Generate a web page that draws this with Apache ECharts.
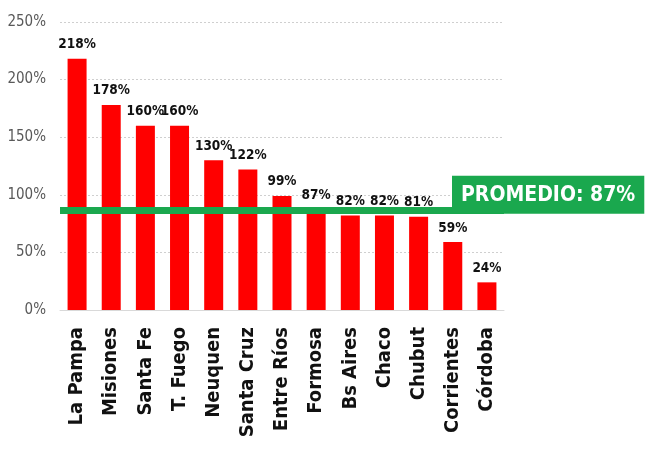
<!DOCTYPE html>
<html>
<head>
<meta charset="utf-8">
<script src="https://cdn.jsdelivr.net/npm/echarts@6/dist/echarts.min.js"></script>
<style>
  html, body { margin: 0; padding: 0; background: #fff; }
  #chart { width: 650px; height: 450px; }
</style>
</head>
<body>
<div id="chart"></div>
<script>
// provincias y porcentajes
const provincias = ["La Pampa", "Misiones", "Santa Fe", "T. Fuego", "Neuquen", "Santa Cruz", "Entre Ríos", "Formosa", "Bs Aires", "Chaco", "Chubut", "Corrientes", "Córdoba"];
const valores = [218, 178, 160, 160, 130, 122, 99, 87, 82, 82, 81, 59, 24];
const promedio = 87;
const yTicks = [0, 50, 100, 150, 200, 250];

const font = '"Liberation Sans Narrow", "DejaVu Sans Condensed", "Liberation Sans", sans-serif';

const chart = echarts.init(document.getElementById("chart"));

chart.setOption({
  animation: false,
  grid: { left: 60, right: 146, top: 22, bottom: 140 },
  xAxis: {
    type: "category",
    data: provincias,
    axisLine: { lineStyle: { color: "#d9d9d9", width: 1 } },
    axisTick: { show: false },
    axisLabel: {
      rotate: 90,
      interval: 0,
      margin: 17,
      color: "#111",
      fontWeight: "bold",
      fontSize: 20,
      fontFamily: font
    }
  },
  yAxis: {
    type: "value",
    min: yTicks[0],
    max: yTicks[yTicks.length - 1],
    interval: 50,
    axisLine: { show: false },
    axisTick: { show: false },
    axisLabel: {
      formatter: v => v + "%",
      color: "#595959",
      fontSize: 15,
      fontFamily: font,
      margin: 14
    },
    splitLine: { lineStyle: { color: "#cfcfcf", type: [2, 2], width: 1 } }
  },
  series: [{
    type: "bar",
    data: valores,
    barWidth: 19,
    itemStyle: { color: "#ff0000" },
    label: {
      show: true,
      position: "top",
      distance: 7,
      formatter: p => p.value + "%",
      color: "#111",
      fontWeight: "bold",
      fontSize: 13.5,
      fontFamily: font
    },
    markLine: {
      silent: true,
      symbol: "none",
      lineStyle: { color: "#1aa84e", width: 7, type: "solid" },
      data: [{ yAxis: promedio }],
      label: {
        show: true,
        position: "end",
        distance: -52,
        verticalAlign: "bottom",
        offset: [0, 4],
        formatter: "PROMEDIO: " + promedio + "%",
        color: "#fff",
        backgroundColor: "#1aa84e",
        fontWeight: "bold",
        fontSize: 21,
        fontFamily: font,
        padding: [9, 9, 8, 9]
      }
    }
  }]
});
</script>
</body>
</html>
